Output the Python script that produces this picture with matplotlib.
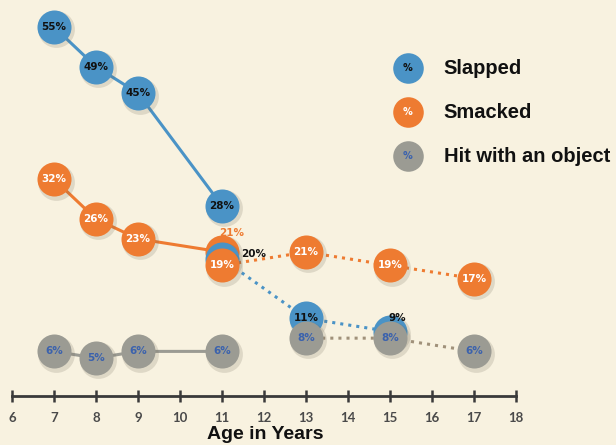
import matplotlib.pyplot as plt

# data (percent)
ages_old = [7, 8, 9, 11]
slapped_old = [55, 49, 45, 28]
smacked_old = [32, 26, 23, 21]
hit_old = [6, 5, 6, 6]

ages_slapped_new = [11, 13, 15]
slapped_new = [20, 11, 9]
ages_smacked_new = [11, 13, 15, 17]
smacked_new = [19, 21, 19, 17]
ages_hit_new = [13, 15, 17]
hit_new = [8, 8, 6]

age_ticks = list(range(6, 19))
legend_labels = ["Slapped", "Smacked", "Hit with an object"]

BG = "#f8f2e0"
BLUE = "#4a93c6"
ORANGE = "#ee7b31"
GRAY = "#9b9b93"
HIT_TXT = "#3b62ad"

fig = plt.figure(figsize=(6.16, 4.45), dpi=100, facecolor=BG)
ax = fig.add_axes([0, 0, 1, 1], facecolor=BG)
ax.set_xlim(5.714, 20.381)
ax.set_ylim(-8.14, 59.08)

MS = 24.5


def circles(x, y, color, z):
    # soft drop shadow, then the disc
    ax.plot([v + 0.04 for v in x], [v - 0.35 for v in y], "o", ms=MS + 2,
            color="#6b6455", alpha=0.18, mec="none", zorder=z - 0.5)
    ax.plot(x, y, "o", ms=MS, color=color, mec="none", zorder=z)


def labels(x, y, color, z, skip=()):
    for i, (a, v) in enumerate(zip(x, y)):
        if i in skip:
            continue
        ax.text(a, v, f"{v}%", ha="center", va="center", fontsize=7.5,
                fontweight="bold", color=color, zorder=z)


# older survey: solid lines
ax.plot(ages_old, slapped_old, "-", color=BLUE, lw=2.2, zorder=2)
ax.plot(ages_old, smacked_old, "-", color=ORANGE, lw=2.2, zorder=2)
ax.plot(ages_old, hit_old, "-", color=GRAY, lw=2.2, zorder=2)

# newer survey: dotted lines
ax.plot(ages_slapped_new, slapped_new, ":", color=BLUE, lw=2.2, zorder=1)
ax.plot(ages_smacked_new, smacked_new, ":", color=ORANGE, lw=2.2, zorder=1)
ax.plot(ages_hit_new, hit_new, ":", color="#a0917a", lw=2.2, zorder=1)

circles(ages_old, smacked_old, ORANGE, 3)
labels(ages_old, smacked_old, "white", 3.1, skip=(3,))
circles(ages_slapped_new, slapped_new, BLUE, 4)
labels(ages_slapped_new, slapped_new, "#111111", 4.1, skip=(0, 2))
circles(ages_smacked_new, smacked_new, ORANGE, 5)
labels(ages_smacked_new, smacked_new, "white", 5.1)
circles(ages_old, slapped_old, BLUE, 5)
labels(ages_old, slapped_old, "#111111", 5.1)
circles(ages_old, hit_old, GRAY, 6)
labels(ages_old, hit_old, HIT_TXT, 6.1)
circles(ages_hit_new, hit_new, GRAY, 6)
labels(ages_hit_new, hit_new, HIT_TXT, 6.1)

# values whose discs are hidden, labelled beside them
ax.text(ages_old[3] + 0.24, smacked_old[3] + 2.9, f"{smacked_old[3]}%",
        ha="center", va="center", fontsize=7.5, fontweight="bold", color=ORANGE)
ax.text(ages_slapped_new[0] + 0.76, slapped_new[0] + 0.7, f"{slapped_new[0]}%",
        ha="center", va="center", fontsize=7.5, fontweight="bold",
        color="#111111", zorder=8)
ax.text(ages_slapped_new[2] + 0.17, slapped_new[2] + 2.0, f"{slapped_new[2]}%",
        ha="center", va="center", fontsize=7.5, fontweight="bold",
        color="#111111", zorder=8)

# age axis
for s in ["top", "right", "left"]:
    ax.spines[s].set_visible(False)
ax.spines["bottom"].set_position(("data", -0.74))
ax.spines["bottom"].set_bounds(6, 18)
ax.spines["bottom"].set_color("#3a3a3a")
ax.spines["bottom"].set_linewidth(2)
ax.set_xticks(age_ticks)
ax.set_xticklabels([str(a) for a in age_ticks], family="Lato",
                   fontweight="bold", color="#4a4a4a")
ax.tick_params(axis="x", direction="inout", length=9, width=1.8,
               color="#3a3a3a", labelsize=9.5, pad=7)
ax.set_yticks([])
ax.text(12.03, -6.55, "Age in Years", ha="center", va="center", fontsize=14,
        fontweight="bold", family="Liberation Sans", color="#111111")

# legend
leg_colors = [BLUE, ORANGE, GRAY]
leg_txt = ["#111111", "white", HIT_TXT]
leg_y = [0.847, 0.748, 0.649]
for lab, c, tc, yy in zip(legend_labels, leg_colors, leg_txt, leg_y):
    ax.plot([0.662], [yy], "o", ms=22, color=c, mec="none",
            transform=ax.transAxes, zorder=3)
    ax.text(0.662, yy, "%", ha="center", va="center", fontsize=7,
            fontweight="bold", color=tc, transform=ax.transAxes, zorder=4)
    ax.text(0.72, yy, lab, ha="left", va="center", fontsize=14.5,
            fontweight="bold", family="Liberation Sans", color="#111111",
            transform=ax.transAxes)

fig.savefig("out.png", dpi=100, facecolor=BG)
